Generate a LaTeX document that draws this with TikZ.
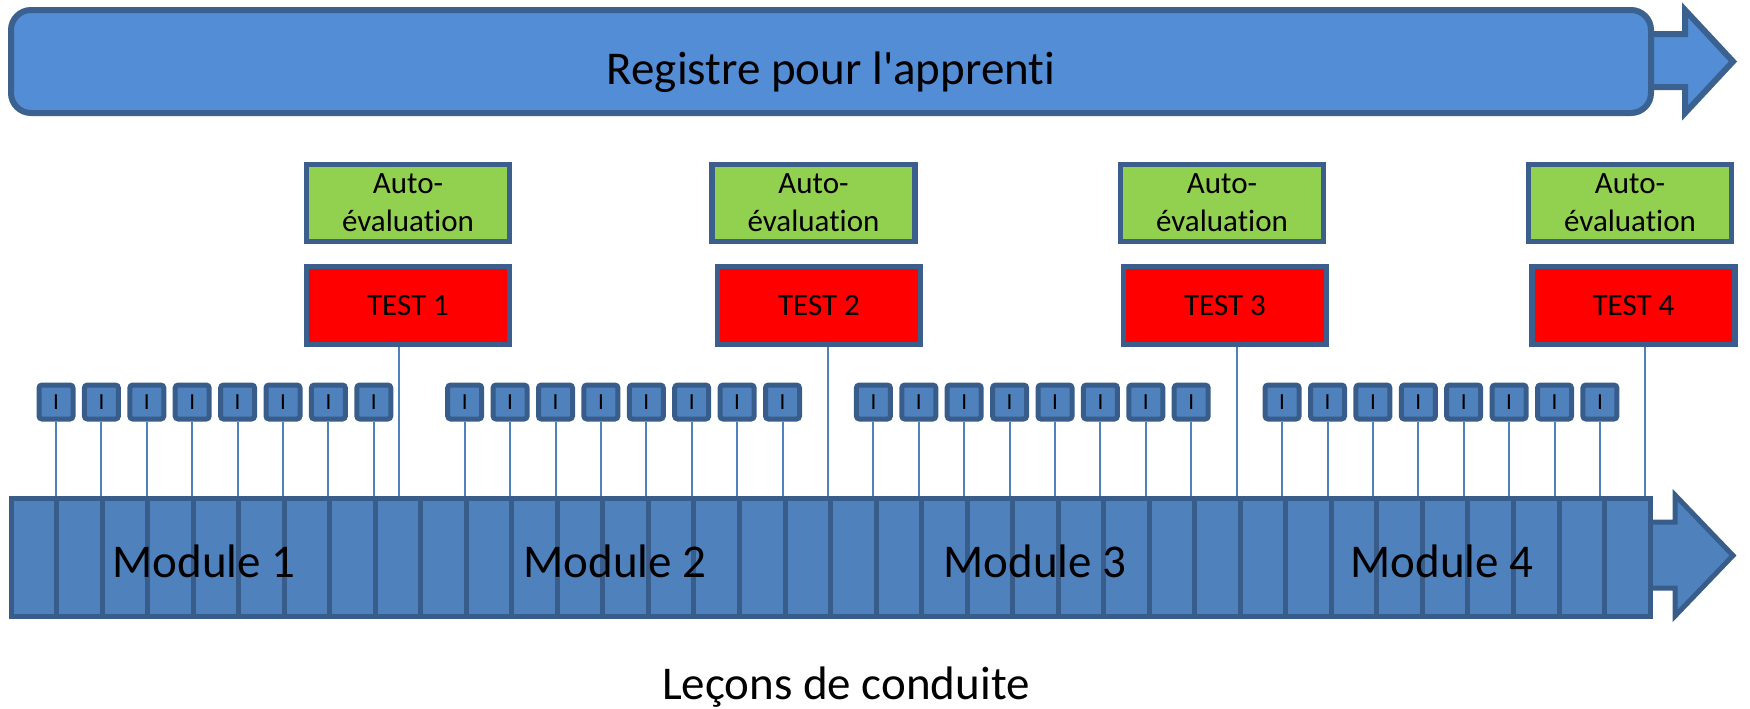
\documentclass[tikz,border=0pt]{standalone}
\usepackage{fontspec}
\setmainfont{Carlito}[Ligatures={TeX,NoCommon}]
\usetikzlibrary{positioning}
\definecolor{topblue}{HTML}{538DD5}
\definecolor{topedge}{HTML}{3B6191}
\definecolor{barblue}{HTML}{4F81BD}
\definecolor{edgeblue}{HTML}{385D8A}
\definecolor{boxedge}{HTML}{3B5E8C}
\definecolor{autogreen}{HTML}{92D050}

\begin{document}
\begin{tikzpicture}[x=0.5pt,y=-0.5pt]
\tikzstyle{outline}=[draw=edgeblue, line width=2.5pt]
\tikzstyle{topline}=[draw=topedge, line width=3pt, fill=topblue]
\tikzstyle{topbar}=[topline, rounded corners=10pt, minimum width=820pt, minimum height=51.5pt, inner sep=0pt]
\tikzstyle{lesson}=[outline, fill=barblue, minimum width=22.765pt, minimum height=59pt, inner sep=0pt]
\tikzstyle{ibox}=[outline, fill=barblue, rounded corners=1.5pt, minimum size=17pt, inner sep=0pt, font=\fontsize{11.5}{12}\selectfont]
\tikzstyle{autostyle}=[draw=boxedge, line width=2.75pt, fill=autogreen, minimum width=101.5pt, minimum height=38.5pt, inner sep=0pt, align=center, font=\fontsize{15.5}{19}\selectfont]
\tikzstyle{teststyle}=[autostyle, fill=red, minimum height=39pt]
\tikzstyle{edgestyle}=[draw=barblue, line width=1pt]
\tikzstyle{bigtext}=[font=\fontsize{23.5}{28}\selectfont, anchor=base]
\useasboundingbox (0,0) rectangle (1750,708);

% registre
\draw[topline] (1600,34) -- (1685,34) -- (1685,10) -- (1733,61.5) -- (1685,113) -- (1685,87) -- (1600,87) -- cycle;
\node[topbar] (topbar) at (831,61.5) {};
\node[bigtext] (registre) at ([yshift=-11.25pt]topbar.center) {Registre pour l\textquotesingle apprenti};

\node[autostyle] (auto1) at (408,203) {Auto-\\évaluation};
\node[teststyle] (test1) at (408,305.5) {TEST 1};
\node[autostyle] (auto2) at (813.5,203) {Auto-\\évaluation};
\node[teststyle] (test2) at (819,305.5) {TEST 2};
\node[autostyle] (auto3) at (1222,203) {Auto-\\évaluation};
\node[teststyle] (test3) at (1225,305.5) {TEST 3};
\node[autostyle] (auto4) at (1630,203) {Auto-\\évaluation};
\node[teststyle] (test4) at (1633.5,305.5) {TEST 4};

% lecons
\draw[outline, fill=barblue] (1600,522) -- (1675,522) -- (1675,495) -- (1733,555.5) -- (1675,616) -- (1675,588) -- (1600,588) -- cycle;
\foreach \i in {1,...,36}
  \node[lesson] (cell\i) at ({11+(\i-0.5)*45.53},557) {};

\foreach \m in {0,...,3}
  \foreach \k in {1,...,8} {
    \node[ibox] (box\m\k) at ({56+408.7*\m+45.4*(\k-1)},402) {I};
    \draw[edgestyle] (box\m\k) -- (box\m\k |- cell1.north);
  }

\draw[edgestyle] ([xshift=-4.5pt]test1.south) -- ([xshift=-4.5pt]test1.south |- cell1.north);
\draw[edgestyle] ([xshift=4.5pt]test2.south) -- ([xshift=4.5pt]test2.south |- cell1.north);
\draw[edgestyle] ([xshift=6pt]test3.south) -- ([xshift=6pt]test3.south |- cell1.north);
\draw[edgestyle] ([xshift=5.75pt]test4.south) -- ([xshift=5.75pt]test4.south |- cell1.north);

\node[bigtext] (module1) at (204,577) {Module 1};
\node[bigtext] (module2) at (615,577) {Module 2};
\node[bigtext] (module3) at (1035,577) {Module 3};
\node[bigtext] (module4) at (1442,577) {Module 4};

\node[bigtext] (lecons) at (846,699) {Leçons de conduite};
\end{tikzpicture}
\end{document}
